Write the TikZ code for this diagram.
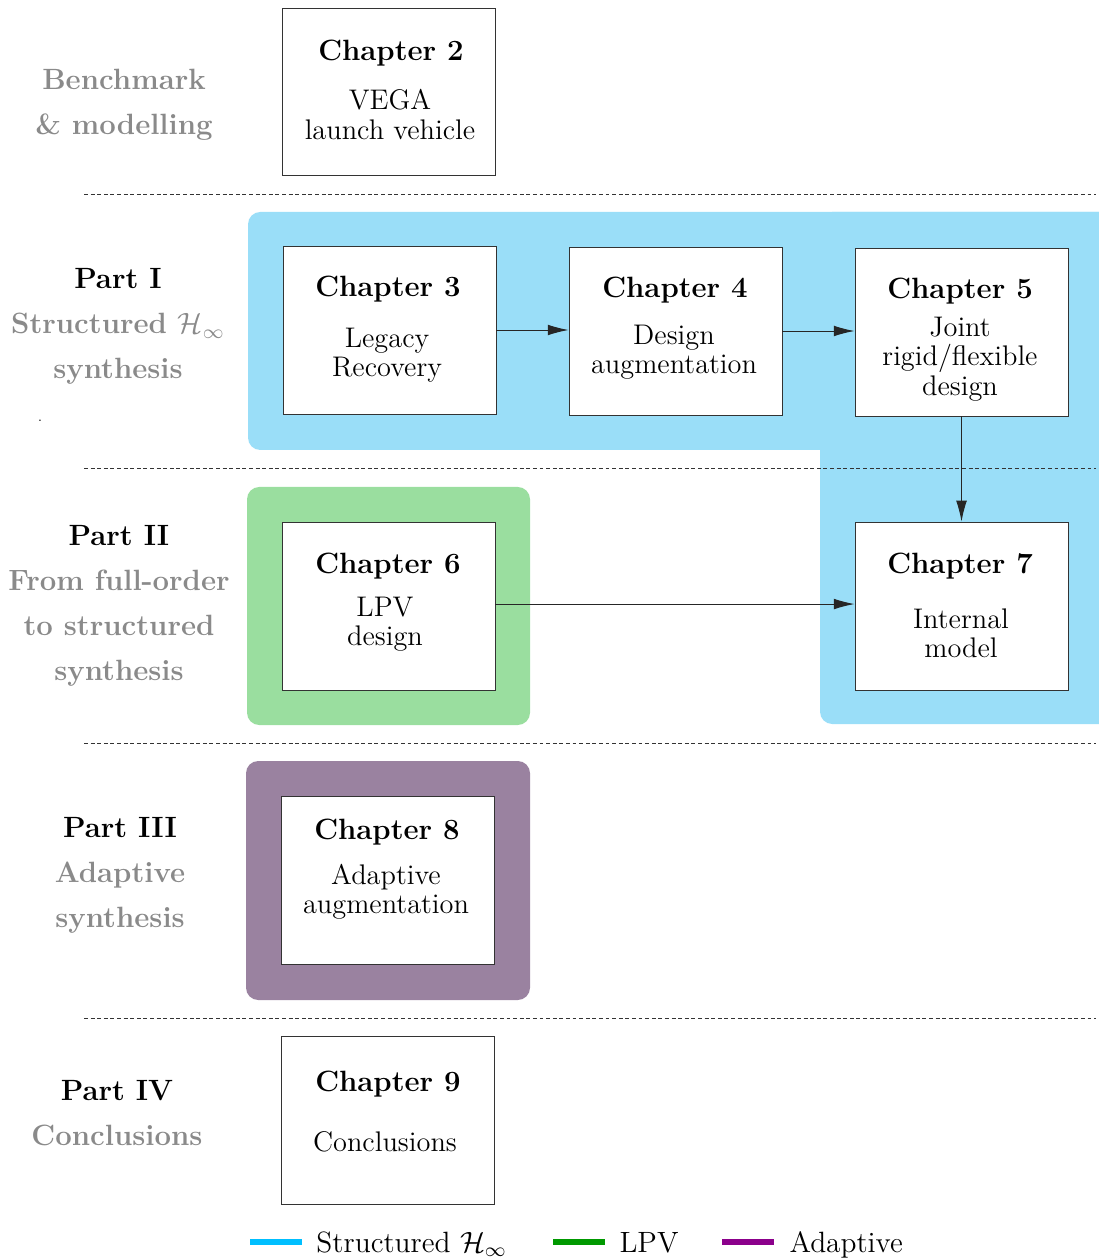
\documentclass[tikz,border=0pt]{standalone}
\usepackage{amsmath}
\usetikzlibrary{arrows.meta}
\definecolor{hinfcol}{HTML}{00BFFF}
\definecolor{lpvcol}{HTML}{009900}
\definecolor{adaptcol}{HTML}{8B008B}
\definecolor{hinffill}{HTML}{9ADEF8}
\definecolor{lpvfill}{HTML}{9ADE9F}
\definecolor{adaptfill}{HTML}{9A82A0}
\definecolor{partgray}{HTML}{8A8A8A}
\tikzset{
  chapbox/.style={draw=black!80, fill=white, minimum width=87.1pt, minimum height=68.7pt, inner sep=0pt},
  chaptitle/.style={font=\large\bfseries, anchor=base, inner sep=0pt},
  chapdesc/.style={font=\fontsize{11.6}{12}\selectfont, align=center, inner sep=0pt},
  legendtext/.style={font=\large, anchor=base west, inner sep=0pt},
  partlabel/.style={font=\fontsize{12}{18.4}\selectfont\bfseries, align=center, text=partgray, inner sep=0pt},
  sepline/.style={black!80, dash pattern=on 1.6pt off 1.1pt, line width=0.4pt},
  link/.style={black!85, -{Latex[length=8.5pt,width=4.4pt]}},
  legendline/.style={line width=2.6pt}
}
\begin{document}
\begin{tikzpicture}[x=0.01438cm, y=-0.01438cm]
    \useasboundingbox (0,0) rectangle (1099,1259);
    % coloured backgrounds
    \fill[hinffill, rounded corners=5pt] (248,212) rectangle (1130,450);
    \fill[hinffill, rounded corners=5pt] (820,212) rectangle (1130,724);
    \fill[lpvfill, rounded corners=5pt] (247,487) rectangle (530,725);
    \fill[adaptfill, rounded corners=5pt] (246,761) rectangle (530,1000);
    % separators
    \foreach \y in {194,468,743,1018}
        \draw[sepline] (84,\y) -- (1096,\y);
    % left labels
    \node[partlabel] (bench) at (124,104.5) {Benchmark\\\& modelling};
    \node[partlabel] (part1) at (118,326.5) {\textcolor{black}{Part I}\\Structured $\mathcal{H}_\infty$\\synthesis};
    \node[partlabel] (part2) at (119,606) {\textcolor{black}{Part II}\\From full-order\\to structured\\synthesis};
    \node[partlabel] (part3) at (120,875.5) {\textcolor{black}{Part III}\\Adaptive\\synthesis};
    \node[partlabel] (part4) at (117,1113) {\textcolor{black}{Part IV}\\Conclusions};
    \node[font=\tiny, anchor=base, inner sep=0pt] (stray) at (40,422) {.};
    % chapters
    \node[chapbox] (ch2) at (388.5,92) {};
    \node[chaptitle] (t2) at (391,61) {Chapter 2};
    \node[chapdesc] (d2) at (390,114.5) {VEGA\\launch vehicle};
    \node[chapbox] (ch3) at (389.5,330) {};
    \node[chaptitle] (t3) at (388,297) {Chapter 3};
    \node[chapdesc] (d3) at (387,355) {Legacy\\Recovery};
    \node[chapbox] (ch4) at (675.5,331) {};
    \node[chaptitle] (t4) at (675,298) {Chapter 4};
    \node[chapdesc] (d4) at (674,352.5) {Design\\augmentation};
    \node[chapbox] (ch5) at (961.5,332) {};
    \node[chaptitle] (t5) at (960,299) {Chapter 5};
    \node[chapdesc] (d5) at (960,359) {Joint\\rigid/flexible\\design};
    \node[chapbox] (ch6) at (388.5,606) {};
    \node[chaptitle] (t6) at (388,573) {Chapter 6};
    \node[chapdesc] (d6) at (385,624) {LPV\\design};
    \node[chapbox] (ch7) at (961.5,606) {};
    \node[chaptitle] (t7) at (960,573) {Chapter 7};
    \node[chapdesc] (d7) at (961,633.5) {Internal\\model};
    \node[chapbox] (ch8) at (387.5,880) {};
    \node[chaptitle] (t8) at (387,839) {Chapter 8};
    \node[chapdesc] (d8) at (386,891.5) {Adaptive\\augmentation};
    \node[chapbox] (ch9) at (387.5,1120) {};
    \node[chaptitle] (t9) at (388,1091) {Chapter 9};
    \node[chapdesc, anchor=base] (d9) at (385,1151) {Conclusions};
    % links
    \draw[link] (ch3.east) -- (ch3.east -| ch4.west);
    \draw[link] (ch4.east) -- (ch4.east -| ch5.west);
    \draw[link] (ch5.south) -- (ch7.north);
    \draw[link] ([yshift=0.8pt]ch6.east) -- ([yshift=0.8pt]ch7.west);
    % legend
    \draw[legendline, hinfcol] (250,1242) -- (302,1242);
    \node[legendtext] (leg1) at (316,1252) {Structured $\mathcal{H}_\infty$};
    \draw[legendline, lpvcol] (553,1242) -- (605,1242);
    \node[legendtext] (leg2) at (619,1252) {LPV};
    \draw[legendline, adaptcol] (722,1242) -- (774,1242);
    \node[legendtext] (leg3) at (789,1252) {Adaptive};
\end{tikzpicture}
\end{document}
